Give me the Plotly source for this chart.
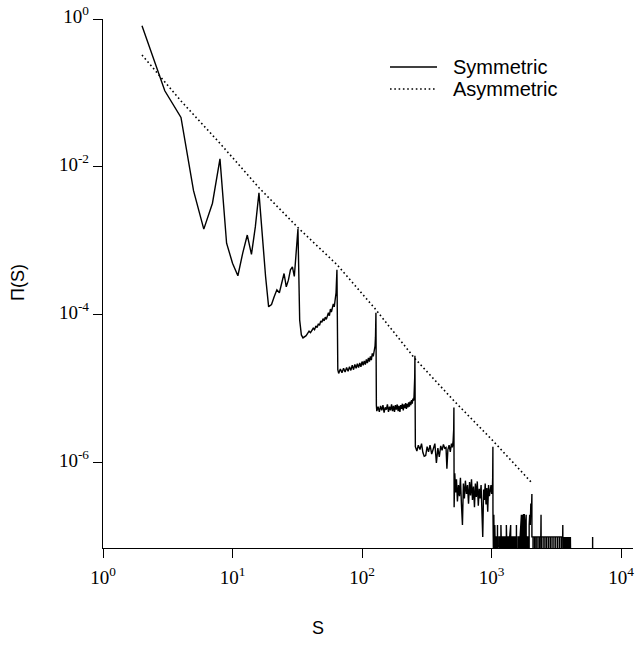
import plotly.graph_objects as go

# ---------------- data ----------------
# Symmetric: S values and log10 Pi(S); None = zero count (drawn at the axis floor)
seg_a_S = [2, 3, 4, 5, 6, 7, 8, 9, 10, 11, 12, 13, 14, 15, 16, 17, 18, 19, 20, 21,
           22, 23, 24, 25, 26, 27, 28, 29, 30, 31, 32, 33, 34, 35]
seg_a_log = [-0.09, -0.97, -1.33, -2.32, -2.84, -2.49, -1.89, -3.03, -3.30, -3.47,
             -3.16, -2.92, -3.18, -2.81, -2.35, -3.00, -3.48, -3.89, -3.86, -3.75,
             -3.66, -3.70, -3.57, -3.44, -3.62, -3.53, -3.39, -3.35, -3.48, -3.21,
             -2.84, -4.07, -4.27, -4.31]

seg_b_S = [36, 37, 38, 39, 40, 41, 42, 43, 44, 45, 46, 47, 48, 49, 50, 51, 52, 53,
           54, 55, 56, 57, 58, 59, 60, 61, 62, 63, 64]
seg_b_log = [-4.30, -4.28, -4.25, -4.22, -4.24, -4.20, -4.18, -4.20, -4.15, -4.17,
             -4.12, -4.14, -4.08, -4.10, -4.05, -4.08, -4.03, -4.06, -4.00, -3.97,
             -4.01, -3.92, -3.96, -3.88, -3.85, -3.89, -3.78, -3.70, -3.39]

seg_c_S = [65, 66, 68, 70, 72, 74, 76, 78, 80, 82, 84, 86, 88, 90, 92, 94, 96, 98,
           100, 102, 104, 106, 108, 110, 112, 114, 116, 118, 120, 122, 124, 126, 127, 128]
seg_c_log = [-4.74, -4.79, -4.73, -4.78, -4.72, -4.77, -4.71, -4.76, -4.70, -4.75,
             -4.68, -4.74, -4.67, -4.72, -4.66, -4.71, -4.65, -4.70, -4.63, -4.68,
             -4.62, -4.67, -4.60, -4.65, -4.58, -4.63, -4.56, -4.61, -4.52, -4.56,
             -4.48, -4.42, -4.30, -3.97]

seg_d_S = [129, 130, 133, 136, 139, 142, 145, 148, 151, 154, 157, 160, 163, 166, 169,
           172, 175, 178, 181, 184, 187, 190, 193, 196, 199, 202, 205, 208, 211, 214,
           217, 220, 223, 226, 229, 232, 235, 238, 241, 244, 247, 250, 252, 254, 255, 256]
seg_d_log = [-5.22, -5.30, -5.24, -5.31, -5.23, -5.29, -5.22, -5.32, -5.25, -5.28,
             -5.21, -5.31, -5.24, -5.29, -5.21, -5.30, -5.23, -5.31, -5.22, -5.28,
             -5.21, -5.30, -5.23, -5.31, -5.22, -5.27, -5.20, -5.29, -5.21, -5.26,
             -5.19, -5.27, -5.20, -5.25, -5.18, -5.24, -5.17, -5.22, -5.15, -5.20,
             -5.13, -5.16, -5.10, -5.00, -4.85, -4.55]

seg_e_S = [258, 265, 272, 280, 288, 295, 302, 310, 318, 326, 335, 345, 355, 365, 375,
           385, 395, 405, 415, 425, 435, 445, 452, 460, 470, 480, 490, 498, 505, 510, 512]
seg_e_log = [-5.78, -5.84, -5.76, -5.82, -5.74, -5.86, -5.91, -5.90, -5.78, -5.85,
             -5.76, -5.88, -5.79, -5.74, -6.00, -5.80, -5.92, -5.77, -5.83, -5.75,
             -5.80, -5.79, -6.08, -5.82, -5.76, -5.85, -5.74, -5.79, -5.70, -5.55, -5.25]

seg_f_S = [514, 520, 528, 536, 545, 555, 565, 575, 585, 596, 606, 617, 628, 640, 652,
           664, 676, 688, 700, 712, 725, 738, 750, 763, 776, 790, 803, 816, 830, 843,
           855, 868, 880, 893, 906, 920, 934, 948, 962, 976, 990, 1004, 1015, 1020, 1024]
seg_f_log = [-6.60, -6.14, -6.40, -6.22, -6.52, -6.30, -6.45, -6.20, -6.55, -6.84,
             -6.28, -6.48, -6.24, -6.42, -6.30, -6.55, -6.26, -6.44, -6.22, -6.50,
             -6.32, -6.60, -6.28, -6.46, -6.25, -6.58, -6.35, -6.48, -6.30, -6.62,
             -7.00, -6.36, -6.50, -6.28, -6.56, -6.34, -6.66, -6.30, -6.45, -6.38,
             -6.30, -6.42, -6.35, -6.20, -5.78]

seg_g_S = [1025, 1030, 1031, 1040, 1041, 1045, 1046, 1058, 1059, 1062, 1063, 1080,
           1081, 1095, 1096, 1110, 1111, 1114, 1115, 1140, 1141, 1160, 1161, 1180,
           1181, 1184, 1185, 1205, 1206, 1225, 1226, 1250, 1251, 1270, 1271, 1300,
           1301, 1305, 1306, 1330, 1331, 1350, 1351, 1380, 1381, 1405, 1406, 1430,
           1431, 1455, 1456, 1490, 1491, 1520, 1521, 1555, 1556, 1560, 1561, 1600,
           1601, 1630, 1631, 1660, 1661, 1700, 1701, 1720, 1721, 1745, 1746, 1765,
           1766, 1790, 1791, 1820, 1821, 1850, 1851, 1880, 1881, 1920, 1921, 1950,
           1951, 1970, 1990, 2010, 2030, 2048]
seg_g_log = [-6.64, -7.0, None, None, -6.70, -7.0, None, None, -6.84, -7.0, None, None,
             -7.0, -7.0, None, None, -6.84, -7.0, None, None, -7.0, -7.0, None, None,
             -6.84, -7.0, None, None, -7.0, -7.0, None, None, -7.0, -7.0, None, None,
             -6.84, -7.0, None, None, -7.0, -7.0, None, None, -7.0, -6.84, None, None,
             -7.0, -7.0, None, None, -7.0, -7.0, None, None, -6.84, -7.0, None, None,
             -7.0, -7.0, None, None, -7.0, -6.70, None, None, -6.70, -7.0, None, None,
             -6.70, -6.70, None, None, -6.84, -6.70, None, None, -7.0, -7.0, None, None,
             -6.84, -6.70, -6.84, -6.55, -6.70, -6.42]

seg_h_S = [2049, 2090, 2091, 2092, 2150, 2151, 2152, 2210, 2211, 2212, 2280, 2281, 2282,
           2350, 2351, 2352, 2400, 2410, 2420, 2421, 2422, 2500, 2501, 2502, 2580, 2581,
           2582, 2660, 2661, 2662, 2750, 2751, 2752, 2840, 2841, 2842, 2930, 2931, 2932,
           3030, 3031, 3032, 3130, 3131, 3132, 3240, 3241, 3242, 3350, 3351, 3352, 3460,
           3461, 3462, 3540, 3548, 3556,
           3565, 3580, 3595, 3610, 3625, 3640, 3655, 3670, 3685, 3700, 3715, 3730, 3745,
           3760, 3775, 3790, 3805, 3820, 3835, 3850, 3865, 3880, 3895, 3910, 3925, 3940,
           3955, 3970, 3985, 4000, 4015, 4030, 4045, 4060, 4075, 4090,
           4096, 4097, 6029, 6030, 6031, 9000]
seg_h_log = [-7.0, -7.0, None, -7.0, -7.0, None, -7.0, -7.0, None, -7.0, -7.0, None, -7.0,
             -7.0, None, -7.0, -7.0, -6.70, -7.0, None, -7.0, -7.0, None, -7.0, -7.0, None,
             -7.0, -7.0, None, -7.0, -7.0, None, -7.0, -7.0, None, -7.0, -7.0, None, -7.0,
             -7.0, None, -7.0, -7.0, None, -7.0, -7.0, None, -7.0, -7.0, None, -7.0, -7.0,
             None, -7.0, -7.0, -6.84, -7.0,
             None, -7.0, None, -7.0, None, -7.0, None, -7.0, None, -7.0, None, -7.0, None,
             -7.0, None, -7.0, None, -7.0, None, -7.0, None, -7.0, None, -7.0, None, -7.0,
             None, -7.0, None, -7.0, None, -7.0, None, -7.0, None, -7.0,
             -7.0, None, None, -7.0, None, None]

# Asymmetric: values at S = 2^k
asym_S = [2, 4, 8, 16, 32, 64, 128, 256, 512, 1024, 2048]
asym_log = [-0.486, -1.108, -1.68, -2.28, -2.82, -3.32, -3.93, -4.59, -5.16, -5.70, -6.27]

x_tick_vals = [1, 10, 100, 1000, 10000]
x_tick_text = ["10<sup>0</sup>", "10<sup>1</sup>", "10<sup>2</sup>", "10<sup>3</sup>", "10<sup>4</sup>"]
y_tick_vals = [1, 1e-2, 1e-4, 1e-6]
y_tick_text = ["10<sup>0</sup>", "10<sup>-2</sup>", "10<sup>-4</sup>", "10<sup>-6</sup>"]

series_names = ["Symmetric", "Asymmetric"]

# ---------------- build ----------------
ZERO_FLOOR = 10 ** -7.6  # zero counts are drawn below the axis minimum (clipped)

sym_S = seg_a_S + seg_b_S + seg_c_S + seg_d_S + seg_e_S + seg_f_S + seg_g_S + seg_h_S
sym_log = seg_a_log + seg_b_log + seg_c_log + seg_d_log + seg_e_log + seg_f_log + seg_g_log + seg_h_log
sym_P = [10 ** v if v is not None else ZERO_FLOOR for v in sym_log]
asym_P = [10 ** v for v in asym_log]

# the page's body margin is removed (post_script below), so no offset is needed
W, H = 636, 652
PLOT_L, PLOT_R, PLOT_T, PLOT_B = 103, 633, 19, 548  # plot box in window pixels
ML, MT = PLOT_L, PLOT_T
MR, MB = W - PLOT_R, H - PLOT_B
PW, PH = PLOT_R - PLOT_L, PLOT_B - PLOT_T


def px(x):
    return (x - PLOT_L) / PW


def py(y):
    return (PLOT_B - y) / PH


DOT = "1.6px,2.7px"

fig = go.Figure()
fig.add_trace(go.Scatter(x=sym_S, y=sym_P, mode="lines", name=series_names[0],
                         line=dict(color="black", width=1.4), showlegend=False))
fig.add_trace(go.Scatter(x=asym_S, y=asym_P, mode="lines", name=series_names[1],
                         line=dict(color="black", width=1.6, dash=DOT), showlegend=False))

axis_common = dict(type="log", showgrid=False, zeroline=False, showline=True,
                   linecolor="black", linewidth=1.4, ticks="outside", ticklen=9,
                   tickwidth=1.4, tickcolor="black", automargin=False,
                   ticklabeloverflow="allow",
                   tickfont=dict(family="Liberation Serif", size=19, color="black"))

# legend drawn as line samples + text
legend_rows = [(67, dict(color="black", width=1.4)), (89, dict(color="black", width=1.6, dash=DOT))]
shapes = []
annotations = []
for name, (yy, ln) in zip(series_names, legend_rows):
    shapes.append(dict(type="line", xref="paper", yref="paper",
                       x0=px(390), x1=px(437), y0=py(yy), y1=py(yy), line=ln))
    annotations.append(dict(text=name, xref="paper", yref="paper", x=px(451), y=py(yy),
                            showarrow=False, xanchor="left", yanchor="middle",
                            font=dict(family="Liberation Sans", size=20, color="black")))

annotations.append(dict(text="S", xref="paper", yref="paper", x=px(318), y=py(628),
                        showarrow=False, xanchor="center", yanchor="middle",
                        font=dict(family="Liberation Sans", size=18, color="black")))
annotations.append(dict(text="Π(S)", xref="paper", yref="paper", textangle=-90,
                        x=px(18), y=py(283), showarrow=False,
                        xanchor="center", yanchor="middle",
                        font=dict(family="Liberation Sans", size=18, color="black")))

fig.update_layout(
    width=W, height=H,
    margin=dict(l=ML, r=MR, t=MT, b=MB, autoexpand=False),
    paper_bgcolor="white", plot_bgcolor="white",
    xaxis=dict(range=[0, 4.092], tickvals=x_tick_vals, ticktext=x_tick_text,
               ticklabelstandoff=3, **axis_common),
    yaxis=dict(range=[-7.15, 0], tickvals=y_tick_vals, ticktext=y_tick_text,
               ticklabelstandoff=0, ticklabelshift=-3, **axis_common),
    showlegend=False,
    shapes=shapes,
    annotations=annotations,
)

fig.write_html("out.html",
               config={"displayModeBar": False},
               post_script="document.body.style.margin='0px';"
                           "document.documentElement.style.overflow='hidden';")
